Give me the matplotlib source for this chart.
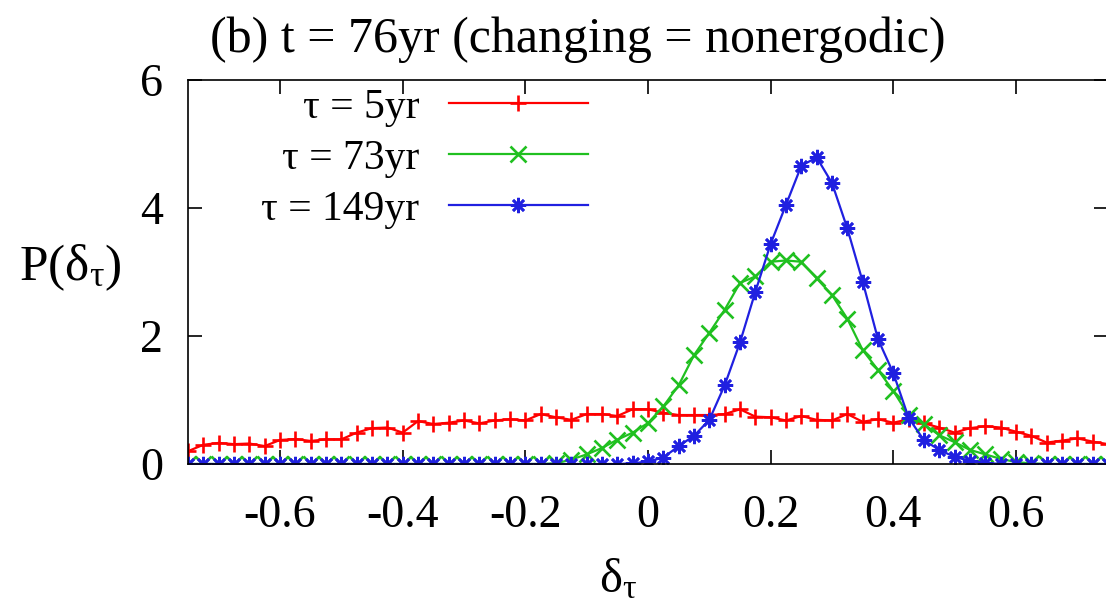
import numpy as np
import matplotlib
matplotlib.use("Agg")
import matplotlib.pyplot as plt

plt.rcParams['font.family'] = ['Liberation Serif', 'DejaVu Serif']
plt.rcParams['mathtext.fontset'] = 'custom'
plt.rcParams['mathtext.rm'] = 'Liberation Serif'

# bin centres of the histogram (delta_tau), step 0.025
delta = np.linspace(-0.75, 0.75, 61)

# tau = 5yr
p_5 = [0.20, 0.30, 0.33, 0.31, 0.32, 0.28, 0.375, 0.39, 0.36, 0.385,
       0.385, 0.49, 0.56, 0.57, 0.49, 0.67, 0.625, 0.645, 0.68, 0.635,
       0.68, 0.70, 0.68, 0.78, 0.73, 0.69, 0.78, 0.78, 0.75, 0.855,
       0.855, 0.80, 0.765, 0.765, 0.765, 0.78, 0.855, 0.74, 0.73, 0.68,
       0.75, 0.69, 0.68, 0.78, 0.66, 0.70, 0.645, 0.70, 0.635, 0.57,
       0.49, 0.56, 0.59, 0.57, 0.505, 0.44, 0.335, 0.365, 0.40, 0.35,
       0.31]

# tau = 73yr
p_73 = [0.0] * 24 + [0.01, 0.07, 0.15, 0.25, 0.38, 0.49,
        0.64, 0.90, 1.23, 1.70, 2.05, 2.41, 2.83, 2.93, 3.16, 3.18,
        3.16, 2.90, 2.64, 2.27, 1.78, 1.47, 1.14, 0.76, 0.62, 0.45,
        0.34, 0.22, 0.15, 0.08, 0.03, 0.01, 0.0, 0.0, 0.0, 0.0,
        0.0]

# tau = 149yr
p_149 = [0.0] * 29 + [0.01,
         0.04, 0.10, 0.28, 0.44, 0.69, 1.23, 1.90, 2.69, 3.44, 4.05,
         4.66, 4.79, 4.39, 3.68, 2.85, 1.95, 1.42, 0.72, 0.37, 0.22,
         0.11, 0.05, 0.02, 0.0, 0.0, 0.0, 0.0, 0.0, 0.0, 0.0,
         0.0]

labels = ['\u03c4 = 5yr', '\u03c4 = 73yr', '\u03c4 = 149yr']
colors = ['#ff0000', '#20c020', '#2020e0']
markers = ['+', 'x', (8, 2, 0)]

xticks = [-0.6, -0.4, -0.2, 0, 0.2, 0.4, 0.6]
xticklabels = ['-0.6', '-0.4', '-0.2', '0', '0.2', '0.4', '0.6']
yticks = [0, 2, 4, 6]

fig = plt.figure(figsize=(11.06, 6.03), dpi=100)
ax = fig.add_axes([188 / 1106, 139 / 603, 920 / 1106, 384 / 603])

for ys, lab, c, m in zip([p_5, p_73, p_149], labels, colors, markers):
    ax.plot(delta, ys, color=c, lw=1.6, marker=m, markersize=11,
            markeredgewidth=1.9, label=lab)

ax.set_xlim(-0.75, 0.75)
ax.set_ylim(0, 6)
ax.set_xticks(xticks)
ax.set_xticklabels(xticklabels)
ax.set_yticks(yticks)
ax.tick_params(direction='in', length=10, width=1.2, top=True, right=True,
               labelsize=33)
ax.tick_params(axis='x', pad=22)
ax.tick_params(axis='y', pad=18)
for s in ax.spines.values():
    s.set_linewidth(1.2)

leg = ax.legend(loc='upper right', bbox_to_anchor=(0.4346, 0.979),
                markerfirst=False, frameon=False, fontsize=30,
                handlelength=3.33, handletextpad=0.72, labelspacing=0.30,
                borderpad=0, borderaxespad=0, numpoints=1)

fig.text(578 / 1106, 1 - 40 / 603, '(b) t = 76yr (changing = nonergodic)',
         ha='center', va='center', fontsize=36)
fig.text(618 / 1106, 1 - 580 / 603, r'$\mathregular{\delta_\tau}$',
         ha='center', va='center', fontsize=35)
fig.text(70 / 1106, 1 - 268 / 603, r'P($\mathregular{\delta_\tau}$)',
         ha='center', va='center', fontsize=37)

fig.savefig('out.png', dpi=100)
